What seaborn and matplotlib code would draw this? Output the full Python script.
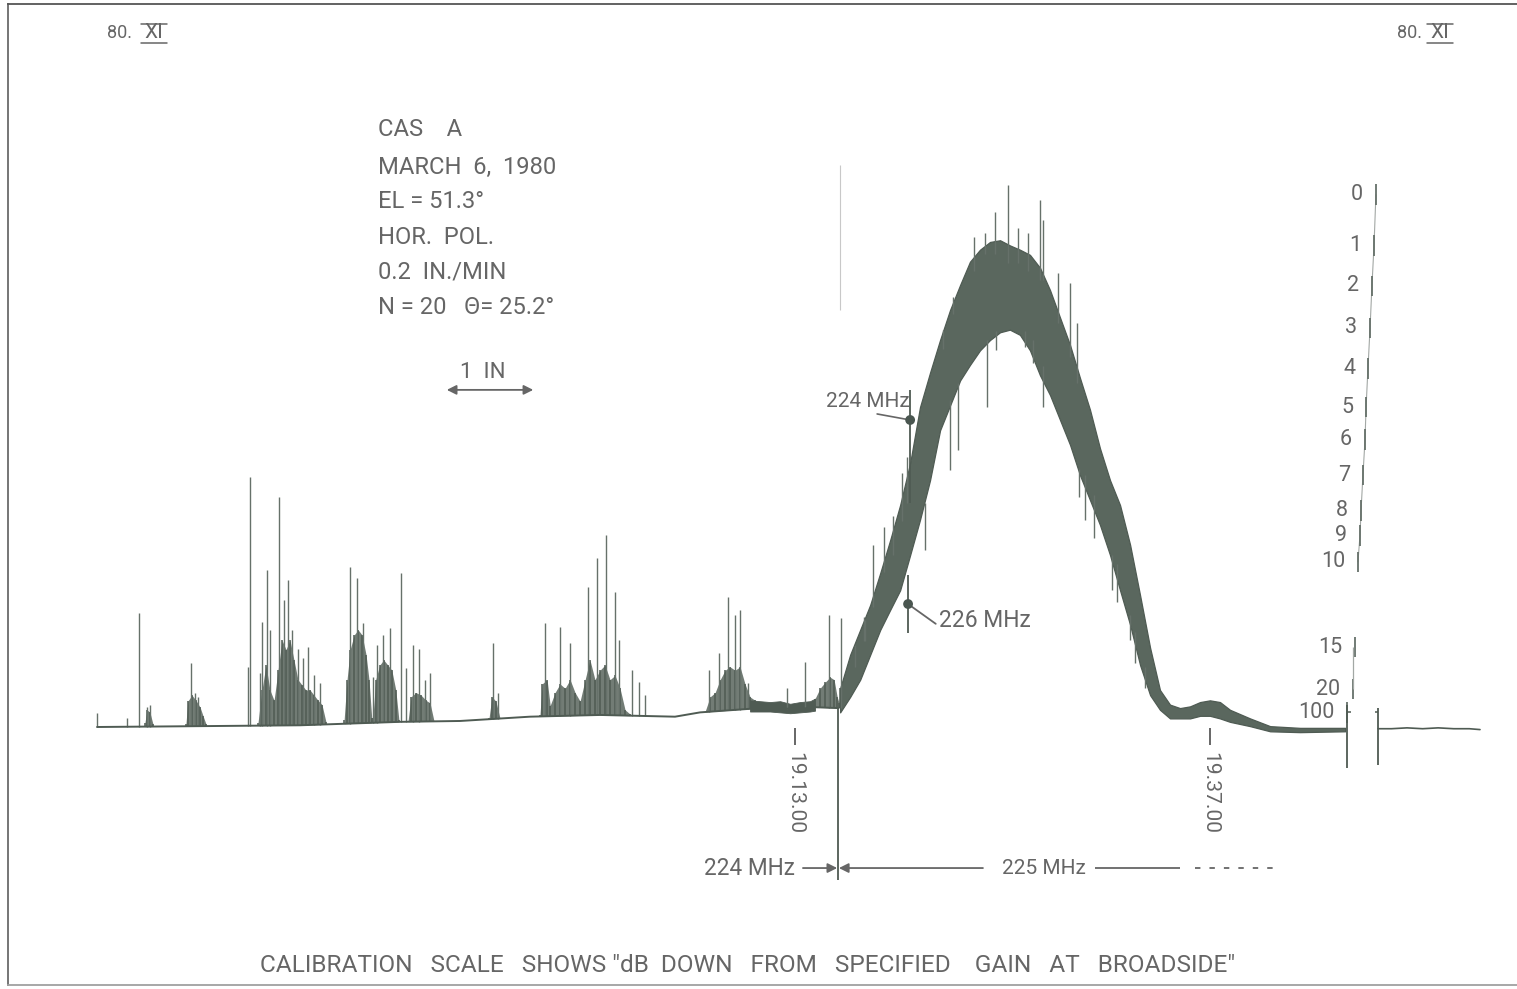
import numpy as np
import matplotlib
matplotlib.use("Agg")
import matplotlib.pyplot as plt
from matplotlib.lines import Line2D
import seaborn as sns

# ---------------- data ----------------
# x: time in minutes after 19:00 (chart speed 0.2 in/min)
# y: pen deflection in inches above the left-hand baseline
base_t = [-27.37, -21.41, -15.63, -9.85, -6.38, -2.33, 1.72, 6.06, 7.51, 10.98, 13.29, 14.16, 15.49]
base_d = [0.00, 0.01, 0.02, 0.06, 0.07, 0.12, 0.14, 0.12, 0.17, 0.22, 0.21, 0.23, 0.22]

# isolated interference spikes (time, tip deflection)
spike_t = [-27.37, -25.64, -24.94, -24.48, -24.31, -21.94, -21.70, -21.53, -18.64, -18.52,
           -17.94, -17.83, -17.54, -17.37, -16.85, -16.56, -16.32, -16.09, -15.75, -15.46,
           -15.17, -14.82, -14.47, -12.73, -12.33, -11.99, -11.42, -11.19, -10.84, -10.43,
           -9.79, -9.50, -9.09, -8.75, -8.40, -8.11, -4.47, -4.18, -1.46, -0.59,
           -0.01, 1.03, 1.55, 2.07, 2.59, 2.82, 3.57, 3.98, 4.33, 8.03,
           8.61, 9.13, 9.53, 9.82, 10.28, 12.54, 13.58, 14.97, 15.66]
spike_d = [0.16, 0.10, 1.33, 0.23, 0.26, 0.74, 0.40, 0.35, 0.70, 2.91,
           0.63, 1.22, 1.83, 1.13, 2.67, 1.48, 1.71, 1.13, 0.91, 0.80,
           0.93, 0.60, 0.51, 1.86, 1.73, 1.21, 0.58, 0.95, 1.07, 1.15,
           1.79, 0.69, 0.95, 0.91, 0.55, 0.63, 0.98, 0.40, 1.21, 1.16,
           0.98, 1.63, 1.97, 2.23, 1.57, 1.01, 0.66, 0.52, 0.37, 0.66,
           0.86, 1.51, 1.30, 1.36, 0.51, 0.45, 0.76, 1.30, 1.27]

# dense interference bursts: envelope of the hatched areas (burst id, time, top deflection)
burst_id = [1] * 4 + [2] * 7 + [3] * 18 + [4] * 9 + [5] * 8 + [6] * 7 + [7] * 4 + [8] * 20 + [9] * 12 + [10] * 8
burst_t = [-24.60, -24.48, -24.31, -24.13,
           -22.23, -22.12, -21.88, -21.65, -21.41, -21.24, -21.06,
           -18.06, -17.83, -17.60, -17.37, -17.13, -16.90, -16.67, -16.44, -16.21, -15.98,
           -15.75, -15.52, -15.29, -15.05, -14.82, -14.59, -14.36, -14.13,
           -13.08, -12.91, -12.73, -12.50, -12.27, -12.04, -11.81, -11.64, -11.48,
           -11.42, -11.25, -11.02, -10.79, -10.55, -10.32, -10.09, -9.91,
           -9.38, -9.21, -8.92, -8.63, -8.34, -8.11, -7.88,
           -4.70, -4.53, -4.30, -4.06,
           -1.75, -1.63, -1.34, -1.16, -0.88, -0.59, -0.30, -0.01, 0.28, 0.57,
           0.86, 1.14, 1.43, 1.72, 2.01, 2.30, 2.59, 2.88, 3.17, 3.46,
           7.80, 8.09, 8.38, 8.67, 8.96, 9.24, 9.53, 9.82, 10.11, 10.40, 10.69, 10.98,
           14.16, 14.45, 14.74, 15.03, 15.26, 15.44, 15.55, 15.61]
burst_d = [0.05, 0.20, 0.17, 0.03,
           0.03, 0.30, 0.37, 0.31, 0.23, 0.13, 0.03,
           0.05, 0.43, 0.72, 0.43, 0.31, 0.66, 1.01, 0.90, 1.01, 0.78,
           0.55, 0.49, 0.43, 0.43, 0.37, 0.31, 0.26, 0.06,
           0.08, 0.55, 0.90, 1.07, 1.13, 1.07, 0.84, 0.55, 0.10,
           0.10, 0.55, 0.72, 0.78, 0.72, 0.66, 0.43, 0.08,
           0.07, 0.35, 0.40, 0.37, 0.31, 0.28, 0.07,
           0.10, 0.35, 0.30, 0.10,
           0.14, 0.50, 0.55, 0.25, 0.40, 0.50, 0.45, 0.55, 0.40, 0.30,
           0.55, 0.78, 0.55, 0.66, 0.72, 0.55, 0.60, 0.45, 0.20, 0.15,
           0.18, 0.35, 0.40, 0.55, 0.66, 0.70, 0.66, 0.70, 0.50, 0.35, 0.31, 0.28,
           0.33, 0.45, 0.52, 0.58, 0.55, 0.35, 0.28, 0.45]

# receiver noise band before the source enters the beam
noise_t = [10.40, 10.98, 11.56, 12.14, 12.72, 13.29, 13.87, 14.16]
noise_hi = [0.31, 0.30, 0.29, 0.30, 0.27, 0.29, 0.30, 0.33]
noise_lo = [0.18, 0.18, 0.18, 0.17, 0.16, 0.17, 0.18, 0.19]

# main beam transit of Cas A: upper and lower envelope of the noisy trace
lobe_t = [15.61, 16.19, 16.77, 17.35, 17.93, 18.50, 19.08, 19.66, 20.23, 20.81,
          21.39, 21.97, 22.55, 23.12, 23.70, 24.28, 24.86, 25.43, 26.01, 26.59,
          27.17, 27.75, 28.33, 28.91, 29.48, 30.06, 30.64, 31.22, 31.80, 32.38,
          32.96, 33.54, 34.11, 34.69, 35.27, 35.85, 36.43, 37.00, 37.58, 38.16,
          39.32, 40.48, 42.21, 44.82]
lobe_hi = [0.45, 0.84, 1.13, 1.42, 1.79, 2.17, 2.58, 3.07, 3.72, 4.12,
           4.50, 4.85, 5.14, 5.41, 5.55, 5.64, 5.66, 5.60, 5.55, 5.49,
           5.34, 5.08, 4.76, 4.44, 4.06, 3.69, 3.24, 2.87, 2.58, 2.12,
           1.53, 0.92, 0.43, 0.26, 0.22, 0.24, 0.29, 0.31, 0.29, 0.20,
           0.10, 0.01, -0.01, -0.01]
lobe_lo = [0.17, 0.35, 0.55, 0.84, 1.13, 1.36, 1.59, 2.00, 2.41, 2.87,
           3.45, 3.74, 4.03, 4.21, 4.38, 4.50, 4.59, 4.62, 4.56, 4.38,
           4.09, 3.86, 3.57, 3.28, 2.93, 2.64, 2.35, 2.00, 1.59, 1.19,
           0.72, 0.37, 0.20, 0.10, 0.10, 0.10, 0.13, 0.13, 0.10, 0.06,
           0.01, -0.05, -0.06, -0.05]

# individual excursions sticking out of the beam envelope
lspike_t = [25.32, 27.17, 24.57, 24.00, 27.34, 28.21, 28.91, 29.31, 22.15, 21.58,
            18.15, 17.52, 16.98, 19.48, 20.52, 21.97, 22.43, 24.11, 26.30, 26.79,
            27.34, 24.63, 29.42, 29.77, 31.33, 32.38, 23.35, 25.90, 26.45, 30.30,
            16.48, 17.06, 18.67, 19.20, 31.62, 32.67, 33.25]
lspike_lo = [5.40, 5.20, 5.50, 5.50, 5.20, 4.70, 4.30, 4.00, 4.80, 4.40,
             1.80, 1.40, 1.00, 2.60, 2.06, 2.99, 3.22, 3.72, 4.42, 4.23,
             3.72, 4.38, 2.67, 2.41, 1.59, 1.01, 5.30, 5.40, 5.30, 2.20,
             0.70, 1.00, 2.00, 2.40, 1.45, 0.75, 0.45]
lspike_hi = [6.30, 6.13, 5.99, 5.74, 5.90, 5.28, 5.16, 4.70, 5.00, 4.62,
             2.33, 2.12, 1.28, 3.14, 2.60, 3.80, 4.00, 4.50, 4.60, 4.50,
             4.20, 4.60, 3.00, 2.93, 2.00, 1.30, 5.70, 5.80, 5.75, 2.70,
             0.95, 1.25, 2.45, 2.95, 1.90, 1.10, 0.70]

# trace after the calibration steps
tail_t = [46.72, 47.50, 48.40, 49.30, 50.20, 51.10, 52.00, 52.62]
tail_d = [-0.02, -0.02, -0.01, -0.02, -0.01, -0.02, -0.02, -0.03]

# calibration scale: dB down from specified gain at broadside
cal_db = ["0", "1", "2", "3", "4", "5", "6", "7", "8", "9", "10", "15", "20", "100"]
cal_t = [46.60, 46.49, 46.37, 46.26, 46.14, 46.03, 45.97, 45.85, 45.74, 45.68, 45.56, 45.39, 45.27, 44.93]
cal_d = [6.19, 5.60, 5.13, 4.64, 4.17, 3.72, 3.34, 2.93, 2.52, 2.23, 1.92, 0.93, 0.44, 0.17]
calbox_t = [44.93, 46.72]
calbox_lo = [-0.48, -0.44]
calbox_hi = [0.26, 0.22]

# frequency markers on the rising flank
fmark_label = ["224 MHz", "226 MHz"]
fmark_t = [19.66, 19.54]
fmark_d = [3.57, 1.43]
fmark_lo = [2.60, 1.09]
fmark_hi = [3.92, 1.77]

# time marks and frequency switch
time_label = ["19.13.00", "19.37.00"]
time_t = [13.0, 37.0]
switch_t = 15.49
band_label = ["224 MHz", "225 MHz"]
chart_speed = 0.2  # in/min

# ---------------- styling ----------------
sns.set_theme(style="white")
plt.rcParams["font.family"] = ["Roboto", "DejaVu Sans"]
TRACE = "#4f5b53"
SPIKE = "#66716a"
TXT = "#666666"
FW = "normal"

W, H = 1517, 989
fig = plt.figure(figsize=(W / 100, H / 100), dpi=100)
fig.patch.set_facecolor("white")
ax = fig.add_axes([8 / W, 4 / H, (W - 8) / W, (H - 8) / H])
ax.set_xlim(-32.52, 54.76)
ax.set_ylim(-3.00, 8.407)
ax.set_xticks([])
ax.set_yticks([])
ax.spines["right"].set_visible(False)
ax.spines["left"].set_color("#6a6a6a")
ax.spines["top"].set_color("#555555")
ax.spines["bottom"].set_color("#a0a0a0")
for s in ["left", "top", "bottom"]:
    ax.spines[s].set_linewidth(1.3)
renderer = fig.canvas.get_renderer()


def fx(px):
    return px / W


def fy(py):
    return 1 - py / H


def fit(txt, size_px, vertical=False):
    bb = txt.get_window_extent(renderer)
    cur = bb.height if vertical else bb.width
    txt.set_fontsize(txt.get_fontsize() * size_px / cur)


bt = np.array(base_t)
bd = np.array(base_d)

# bursts
bid = np.array(burst_id)
btt = np.array(burst_t)
bdd = np.array(burst_d)
for k in np.unique(bid):
    m = bid == k
    tt = btt[m]
    low = np.interp(tt, bt, bd)
    ax.fill_between(tt, low, bdd[m], color=TRACE, lw=0, alpha=0.8)
    ax.vlines(tt, low, bdd[m], color=TRACE, lw=1.1)

# noise band
ax.fill_between(noise_t, noise_lo, noise_hi, color=TRACE, lw=0.6)

# main lobe
ax.fill_between(lobe_t, lobe_lo, lobe_hi, color="#5a675e", lw=0.9, edgecolor=TRACE)

# spikes
st = np.array(spike_t)
ax.vlines(st, np.interp(st, bt, bd), spike_d, color=SPIKE, lw=1.0)
ax.vlines(lspike_t, lspike_lo, lspike_hi, color=SPIKE, lw=1.0)

# baseline and tail
sns.lineplot(x=base_t, y=base_d, ax=ax, color=TRACE, lw=1.4, estimator=None, sort=False)
sns.lineplot(x=tail_t, y=tail_d, ax=ax, color=TRACE, lw=1.2, estimator=None, sort=False)

# calibration steps
ax.plot(cal_t[:11], cal_d[:11], color="#a3a8a5", lw=0.8)
ax.vlines(cal_t, np.array(cal_d) - 0.12, np.array(cal_d) + 0.12, color=SPIKE, lw=1.3)
ax.vlines([cal_t[12]], cal_d[12], cal_d[11], color="#a3a8a5", lw=0.9)
ax.vlines(calbox_t, calbox_lo, calbox_hi, color=TRACE, lw=1.3)
ax.hlines([cal_d[13], calbox_hi[1] - 0.04], [calbox_t[0], calbox_t[1] - 0.15],
          [calbox_t[0] + 0.25, calbox_t[1]], color=TRACE, lw=1.1)
for lab, t, d in zip(cal_db, cal_t, cal_d):
    ax.text(t - 0.75, d, lab, ha="right", va="center", fontsize=15.5, color=TXT, fontweight=FW)

# frequency markers
ax.vlines(fmark_t, fmark_lo, fmark_hi, color=TRACE, lw=1.3)
sns.scatterplot(x=fmark_t, y=fmark_d, ax=ax, color="#4a5650", s=50, edgecolor="none", zorder=5)
t1 = ax.text(17.2, 3.78, fmark_label[0], ha="center", va="center", fontsize=15, color=TXT, fontweight=FW)
fit(t1, 84)
ax.annotate("", xy=(fmark_t[0], fmark_d[0]), xytext=(17.75, 3.64),
            arrowprops=dict(arrowstyle="-", color=TXT, lw=1.2, shrinkA=0, shrinkB=3))
t2 = ax.text(23.99, 1.24, fmark_label[1], ha="center", va="center", fontsize=15, color=TXT, fontweight=FW)
fit(t2, 92)
ax.annotate("", xy=(fmark_t[1], fmark_d[1]), xytext=(21.14, 1.20),
            arrowprops=dict(arrowstyle="-", color=TXT, lw=1.3, shrinkA=0, shrinkB=3))

# time marks: short tick then the rotated time stamp
ax.vlines(time_t, -0.21, -0.01, color=TXT, lw=1.4)
for lab, t in zip(time_label, time_t):
    tx = ax.text(t, -0.29, lab, rotation=270, ha="center", va="top",
                 fontsize=15, color=TXT, fontweight=FW)
    fit(tx, 82, vertical=True)

# frequency switch line and band arrows
ax.vlines([switch_t], -1.78, 0.22, color=TRACE, lw=1.3)
ax.vlines([switch_t + 0.12], 4.85, 6.53, color="#c8c8c8", lw=0.8)
yb = -1.64
b1 = ax.text(10.35, yb, band_label[0], ha="center", va="center", fontsize=16, color=TXT, fontweight=FW)
fit(b1, 91)
ax.annotate("", xy=(switch_t - 0.05, yb), xytext=(13.46, yb),
            arrowprops=dict(arrowstyle="-|>", color=TXT, lw=1.3, mutation_scale=14, shrinkA=0, shrinkB=0))
ax.annotate("", xy=(switch_t + 0.05, yb), xytext=(23.87, yb),
            arrowprops=dict(arrowstyle="-|>", color=TXT, lw=1.3, mutation_scale=14, shrinkA=0, shrinkB=0))
b2 = ax.text(27.40, yb, band_label[1], ha="center", va="center", fontsize=16, color=TXT, fontweight=FW)
fit(b2, 84)
ax.hlines([yb], 30.34, 35.26, color=TXT, lw=1.3)
ax.hlines([yb], 36.13, 40.76, color=TXT, lw=1.3, linestyles=(0, (3, 5)))

# 1 inch scale bar
one_inch = 1.0 / chart_speed
ax.annotate("", xy=(-4.64 + one_inch / 2, 3.92), xytext=(-4.64 - one_inch / 2, 3.92),
            arrowprops=dict(arrowstyle="<|-|>", color=TXT, lw=1.3, mutation_scale=14, shrinkA=0, shrinkB=0))
fig.text(fx(483), fy(372), "1  IN", ha="center", va="center", fontsize=16, color=TXT, fontweight=FW)

# header block
info = ["CAS    A", "MARCH  6,  1980", "EL = 51.3\u00b0", "HOR.  POL.",
        "0.2  IN./MIN", "N = 20   \u0398= 25.2\u00b0"]
info_txt = []
for s, py in zip(info, [130, 167, 202, 238, 272, 307]):
    info_txt.append(fig.text(fx(378), fy(py), s, ha="left", va="center", fontsize=16,
                             color=TXT, fontweight=FW))
fit(info_txt[1], 179)
for t_ in info_txt:
    t_.set_fontsize(info_txt[1].get_fontsize())

# corner marks
for x80, xxi in [(107, 154), (1397, 1440)]:
    fig.text(fx(x80), fy(33), "80.", ha="left", va="center", fontsize=13, color=TXT, fontweight=FW)
    fig.text(fx(xxi), fy(33), "XI", ha="center", va="center", fontsize=15, color=TXT)
    for py in (24, 43):
        fig.add_artist(Line2D([fx(xxi - 13), fx(xxi + 13)], [fy(py), fy(py)],
                              transform=fig.transFigure, color=TXT, lw=1.1))

cap = fig.text(fx(748), fy(965),
               'CALIBRATION   SCALE   SHOWS "dB  DOWN   FROM   SPECIFIED    GAIN   AT   BROADSIDE"',
               ha="center", va="center", fontsize=15, color=TXT, fontweight=FW)
fit(cap, 980)

ax.set_xlabel("")
ax.set_ylabel("")
fig.savefig("out.png", dpi=100, facecolor="white")
